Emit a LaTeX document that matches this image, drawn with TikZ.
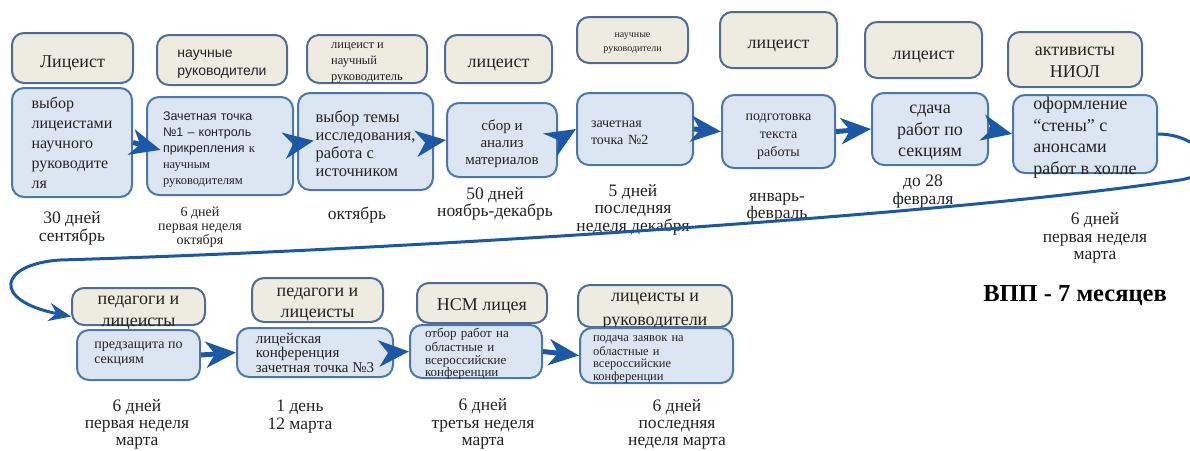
\documentclass[tikz,border=0pt]{standalone}
\usepackage{fontspec}
\setmainfont{Liberation Serif}
\setsansfont{Liberation Sans}
\usetikzlibrary{arrows.meta}
\definecolor{rolefill}{RGB}{238,235,225}
\definecolor{roleline}{RGB}{78,108,148}
\definecolor{taskfill}{RGB}{220,230,242}
\definecolor{taskline}{RGB}{76,119,170}
\definecolor{flowblue}{RGB}{28,88,166}
\definecolor{txt}{RGB}{35,35,35}
\newcommand{\fsz}[2]{\fontsize{#1}{#2}\selectfont}

\begin{document}
\begin{tikzpicture}[x=1pt,y=-1pt]
    \tikzstyle{boxtext}=[text=txt,align=center,inner sep=0pt,
        execute at begin node=\strut,execute at end node=\strut]
    \tikzstyle{role}=[draw=roleline,fill=rolefill,line width=2pt,rounded corners=12pt,inner sep=0pt]
    \tikzstyle{task}=[draw=taskline,fill=taskfill,line width=2pt,rounded corners=12pt,inner sep=0pt]
    \tikzstyle{term}=[boxtext,font=\fsz{17.5}{17.5}]
    \tikzstyle{flow}=[draw=flowblue,line width=5pt,-{Stealth[length=30pt,width=26pt,inset=9pt]}]
    \tikzstyle{longflow}=[draw=flowblue,line width=3pt,-{Stealth[length=22pt,width=18pt,inset=7pt]}]
    \useasboundingbox (0,0) rectangle (1190,450);
    % Roles - top row
    \node[role,minimum width=121pt,minimum height=50pt] (r1) at (72.5,58) {};
    \node[boxtext,font=\fsz{18}{21}] (r1txt) at ([yshift=-5pt]r1.center) {Лицеист};
    \node[role,minimum width=130pt,minimum height=50pt] (r2) at (222,60) {};
    \node[boxtext,font=\sffamily\fsz{14}{18},align=left] (r2txt) at ([yshift=-5pt]r2.center) {научные\\руководители};
    \node[role,minimum width=120pt,minimum height=48pt] (r3) at (367,59) {};
    \node[boxtext,font=\fsz{12.5}{16},align=left] (r3txt) at ([yshift=-5pt]r3.center) {лицеист и\\научный\\руководитель};
    \node[role,minimum width=107pt,minimum height=48pt] (r4) at (498.5,59) {};
    \node[boxtext,font=\fsz{18}{21}] (r4txt) at ([yshift=-4pt]r4.center) {лицеист};
    \node[role,minimum width=111pt,minimum height=46pt] (r5) at (632.5,40) {};
    \node[boxtext,font=\fsz{10}{14}] (r5txt) at ([yshift=-4pt]r5.center) {научные\\руководители};
    \node[role,minimum width=117pt,minimum height=56pt] (r6) at (778.5,40) {};
    \node[boxtext,font=\fsz{18}{21}] (r6txt) at ([yshift=-4pt]r6.center) {лицеист};
    \node[role,minimum width=117pt,minimum height=56pt] (r7) at (923.5,50) {};
    \node[boxtext,font=\fsz{18}{21}] (r7txt) at ([yshift=-5pt]r7.center) {лицеист};
    \node[role,minimum width=134pt,minimum height=55pt] (r8) at (1075,59.5) {};
    \node[boxtext,font=\fsz{18}{21.5}] (r8txt) at ([yshift=-6pt]r8.center) {активисты\\НИОЛ};
    % Tasks - top row
    \node[task,minimum width=120pt,minimum height=109pt] (t1) at (72,142.5) {};
    \node[boxtext,font=\fsz{16}{20},align=left] (t1txt) at ([yshift=-3pt]t1.center) {выбор\\лицеистами\\научного\\руководите\\ля};
    \node[task,minimum width=146pt,minimum height=98pt] (t2) at (220,146) {};
    \node[boxtext,font=\fsz{12.5}{16},align=left,text width=114pt] (t2txt) at ([yshift=-3pt]t2.center)
        {{\sffamily Зачетная точка}\\{\sffamily №1 – контроль}\\{\sffamily прикрепления} к\\научным\\руководителям};
    \node[task,minimum width=135pt,minimum height=97pt] (t3) at (365.5,141.5) {};
    \node[boxtext,font=\fsz{16.5}{18},align=left] (t3txt) at ([yshift=-5pt]t3.center) {выбор темы\\исследования,\\работа с\\источником};
    \node[task,minimum width=110pt,minimum height=74pt] (t4) at (502,140) {};
    \node[boxtext,font=\fsz{15}{17}] (t4txt) at ([yshift=-5pt]t4.center) {сбор и\\анализ\\материалов};
    \node[task,minimum width=116pt,minimum height=72pt] (t5) at (635,129) {};
    \node[boxtext,font=\fsz{14}{17},align=left,text width=88pt] (t5txt) at ([yshift=-4pt]t5.center) {зачетная\\точка №2};
    \node[task,minimum width=113pt,minimum height=73pt] (t6) at (778.5,131.5) {};
    \node[boxtext,font=\fsz{14}{18}] (t6txt) at ([yshift=-6pt]t6.center) {подготовка\\текста\\работы};
    \node[task,minimum width=116pt,minimum height=72pt] (t7) at (930,129) {};
    \node[boxtext,font=\fsz{18}{21.5}] (t7txt) at ([yshift=-5pt]t7.center) {сдача\\работ по\\секциям};
    \node[task,minimum width=144pt,minimum height=78pt] (t8) at (1085,134) {};
    \node[boxtext,font=\fsz{18}{21.5},align=left] (t8txt) at ([yshift=-5pt]t8.center) {оформление\\“стены” с\\анонсами\\работ в холле};
    % Terms - top row
    \node[term] (l1) at (72,229) {30 дней\\сентябрь};
    \node[term,font=\fsz{14}{14}] (l2) at (200,227.5) {6 дней\\первая неделя\\октября};
    \node[term] (l3) at (357,216) {октябрь};
    \node[term] (l4) at (495,204.5) {50 дней\\ноябрь-декабрь};
    \node[term] (l5) at (633,210.5) {5 дней\\последняя\\неделя декабря};
    \node[term] (l6) at (777,208.5) {январь-\\февраль};
    \node[term] (l7) at (923,192.5) {до 28\\февраля};
    \node[term] (l8) at (1095,239) {6 дней\\первая неделя\\марта};
    % Roles - bottom row
    \node[role,minimum width=133pt,minimum height=37pt] (rb1) at (138.5,306.5) {};
    \node[boxtext,font=\fsz{18}{22}] (rb1txt) at ([yshift=-8.5pt]rb1.center) {педагоги и\\лицеисты};
    \node[role,minimum width=131pt,minimum height=44pt] (rb2) at (317.5,300) {};
    \node[boxtext,font=\fsz{18}{21.5}] (rb2txt) at ([yshift=-6pt]rb2.center) {педагоги и\\лицеисты};
    \node[role,minimum width=130pt,minimum height=40pt] (rb3) at (482,303) {};
    \node[boxtext,font=\fsz{18}{21}] (rb3txt) at ([yshift=-3pt]rb3.center) {НСМ лицея};
    \node[role,minimum width=154pt,minimum height=42pt] (rb4) at (655,306) {};
    \node[boxtext,font=\fsz{18}{23.5}] (rb4txt) at ([yshift=-7pt]rb4.center) {лицеисты и\\руководители};
    % Tasks - bottom row
    \node[task,minimum width=123pt,minimum height=50pt] (tb1) at (138.5,355) {};
    \node[boxtext,font=\fsz{14}{15},align=left] (tb1txt) at ([yshift=0.5pt]tb1.center) {предзащита по\\секциям};
    \node[task,minimum width=156pt,minimum height=49pt] (tb2) at (315,352.5) {};
    \node[boxtext,font=\fsz{15}{14.5},align=left] (tb2txt) at ([yshift=-2.5pt]tb2.center) {лицейская\\конференция\\зачетная точка №3};
    \node[task,minimum width=132pt,minimum height=53pt] (tb3) at (476,351.5) {};
    \node[boxtext,font=\fsz{13}{12.5},align=left,text width=102pt] (tb3txt) at ([yshift=-3pt]tb3.center)
        {отбор работ на\\областные и\\всероссийские\\конференции};
    \node[task,minimum width=153pt,minimum height=55pt] (tb4) at (656.5,355.5) {};
    \node[boxtext,font=\fsz{12.5}{12.5},align=left,text width=127pt] (tb4txt) at ([yshift=-3pt]tb4.center)
        {подача заявок на\\областные и\\всероссийские\\конференции};
    % Terms - bottom row
    \node[term,font=\fsz{17.5}{17}] (lb1) at (137,425.5) {6 дней\\первая неделя\\марта};
    \node[term] (lb2) at (300,417.5) {1 день\\12 марта};
    \node[term] (lb3) at (483,425) {6 дней\\третья неделя\\марта};
    \node[term,font=\fsz{17.5}{17}] (lb4) at (677,425.5) {6 дней\\последняя\\неделя марта};
    \node[boxtext,font=\bfseries\fsz{24.5}{24.5},text=black] (vpp) at (1075,297) {ВПП - 7 месяцев};
    % Arrows
    \draw[flow,shorten >=-15pt] (t1.east) -- (t2.west);
    \draw[flow,shorten >=-17pt] ([yshift=2pt]t2.east) -- ([yshift=-2pt]t3.west);
    \draw[flow] (t3.east) -- (t4.west);
    \draw[flow] (t4.east) -- (t5.west);
    \draw[flow] (t5.east) -- (t6.west);
    \draw[flow] (t6.east) -- (t7.west);
    \draw[flow] (t7.east) -- (t8.west);
    \draw[longflow] (t8.east) .. controls (1200,134) and (1230,172) .. (1180,180)
        .. controls (950,215) and (400,250) .. (60,260)
        .. controls (0,264) and (-10,300) .. ([yshift=-10pt]rb1.west);
    \draw[flow] (tb1.east) -- (tb2.west);
    \draw[flow] (tb2.east) -- (tb3.west);
    \draw[flow] (tb3.east) -- (tb4.west);
\end{tikzpicture}
\end{document}
